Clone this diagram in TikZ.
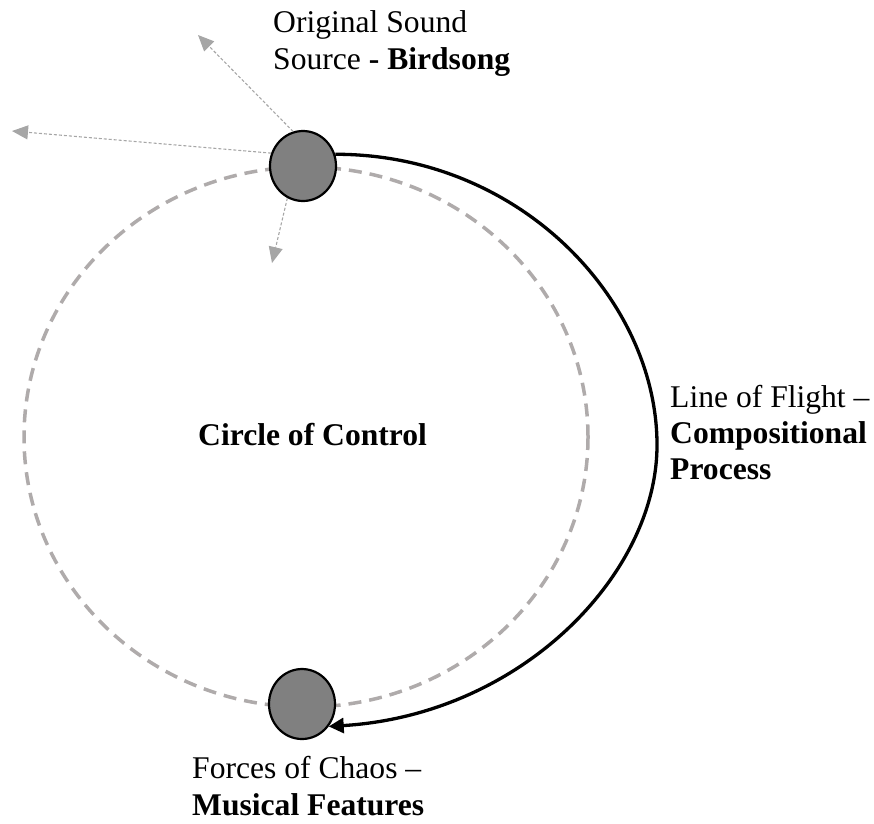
\documentclass[tikz,border=0pt]{standalone}
\usepackage{fontspec}
\setmainfont{Liberation Serif}
\usetikzlibrary{arrows.meta,shapes.geometric}

\definecolor{ringgray}{RGB}{175,171,171}
\definecolor{raygray}{RGB}{166,166,166}
\definecolor{dotfill}{RGB}{128,128,128}

\tikzset{
  dot/.style={ellipse, draw=black, line width=2.2pt, fill=dotfill,
    minimum width=66pt, minimum height=70pt, inner sep=0pt},
  label text/.style={inner sep=0pt, align=left, anchor=base west,
    font=\fontsize{31.6}{37}\selectfont},
  ring/.style={draw=ringgray, line width=3.5pt, dash pattern=on 13pt off 8pt},
  ray/.style={draw=raygray, line width=1.1pt, dash pattern=on 3pt off 2pt,
    -{Triangle[length=16pt,width=14pt,fill=raygray]}},
  flight/.style={draw=black, line width=3.3pt,
    -{Triangle[length=15pt,width=15pt]}}
}

\begin{document}
\begin{tikzpicture}[x=1pt,y=-1pt]
  \useasboundingbox (0,0) rectangle (874,823);

  % circle of control
  \draw[ring] (306,437) ellipse [x radius=282, y radius=270];

  % sound source and forces of chaos
  \node[dot] (src) at (303,166) {};
  \node[dot] (chaos) at (302,704) {};

  % rays leaving the source
  \coordinate (r1) at (198,35);
  \coordinate (r2) at (12,131);
  \coordinate (r3) at (272,263);
  \draw[ray] (src.106) -- (r1);
  \draw[ray] (src.158) -- (r2);
  \draw[ray] (src.244) -- (r3);

  % line of flight
  \draw[flight] (src.20) .. controls (520,154) and (657,300) .. (657,445)
    .. controls (657,575) and (520,715) .. (chaos.-40);

  % labels (anchored at the baseline of their last line)
  \node[label text] (srclabel) at (273,69) {Original Sound\\Source \textbf{- Birdsong}};
  \node[label text] (ctrl) at (198,445) {\textbf{Circle of Control}};
  \node[label text, font=\fontsize{31.6}{36}\selectfont] (flightlabel) at (670,479)
    {Line of Flight --\\\textbf{Compositional}\\\textbf{Process}};
  \node[label text] (chaoslabel) at (192,815) {Forces of Chaos --\\\textbf{Musical Features}};
\end{tikzpicture}
\end{document}
